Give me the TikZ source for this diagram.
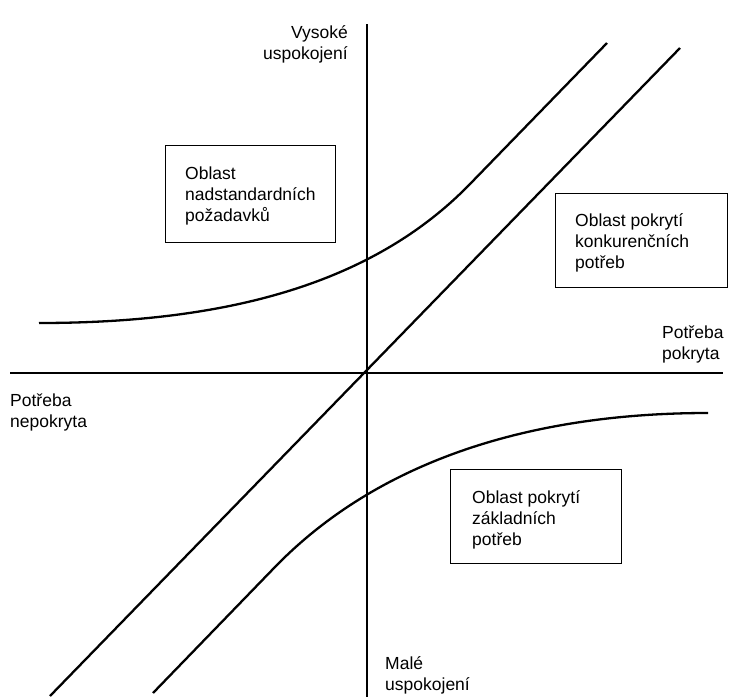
\documentclass[tikz,border=0pt]{standalone}
\usepackage{fontspec}
\setmainfont{Liberation Sans}
\begin{document}
\begin{tikzpicture}[x=1pt,y=-1pt,
  axis/.style={line width=1.3pt,black},
  curve/.style={line width=2.3pt,black},
  box/.style={draw,line width=1.3pt,anchor=north west,inner sep=0pt},
  txt/.style={font=\fontsize{17.5}{21}\selectfont,align=left,inner sep=0pt}]
\useasboundingbox (0,0) rectangle (756,697);
% axes
\coordinate (vtop) at (367,24);
\coordinate (vbot) at (367,697);
\coordinate (hl) at (10,373);
\coordinate (hr) at (723,373);
\draw[axis] (vtop) -- (vbot);
\draw[axis] (hl) -- (hr);
% straight diagonal
\coordinate (d1) at (50,696);
\coordinate (d2) at (680,48);
\draw[curve] (d1) -- (d2);
% upper curve
\coordinate (u0) at (39,323);
\coordinate (u3) at (470,184);
\coordinate (u4) at (607,43);
\draw[curve] (u0) .. controls (220,323) and (370,287) .. (u3) -- (u4);
% lower curve
\coordinate (l0) at (153,693);
\coordinate (l1) at (275,567);
\coordinate (l4) at (708,413);
\draw[curve] (l0) -- (l1) .. controls (378,461) and (530,413) .. (l4);
% boxes
\node[box,minimum width=170pt,minimum height=97pt] (b1) at (165,145) {};
\node[box,minimum width=172pt,minimum height=94pt] (b2) at (555,193) {};
\node[box,minimum width=171pt,minimum height=94pt] (b3) at (450,469) {};
\node[txt,anchor=north west] (t1) at (185,167) {Oblast\\nadstandardních\\požadavků};
\node[txt,anchor=north west] (t2) at (575,213) {Oblast pokrytí\\konkurenčních\\potřeb};
\node[txt,anchor=north west] (t3) at (472,490) {Oblast pokrytí\\základních\\potřeb};
% axis labels
\node[txt,align=right,anchor=north east] (vys) at (348,25) {Vysoké\\uspokojení};
\node[txt,anchor=north west] (pp) at (662,326) {Potřeba\\pokryta};
\node[txt,anchor=north west] (pn) at (10,394) {Potřeba\\nepokryta};
\node[txt,anchor=north west] (mal) at (385,656) {Malé\\uspokojení};
\end{tikzpicture}
\end{document}
